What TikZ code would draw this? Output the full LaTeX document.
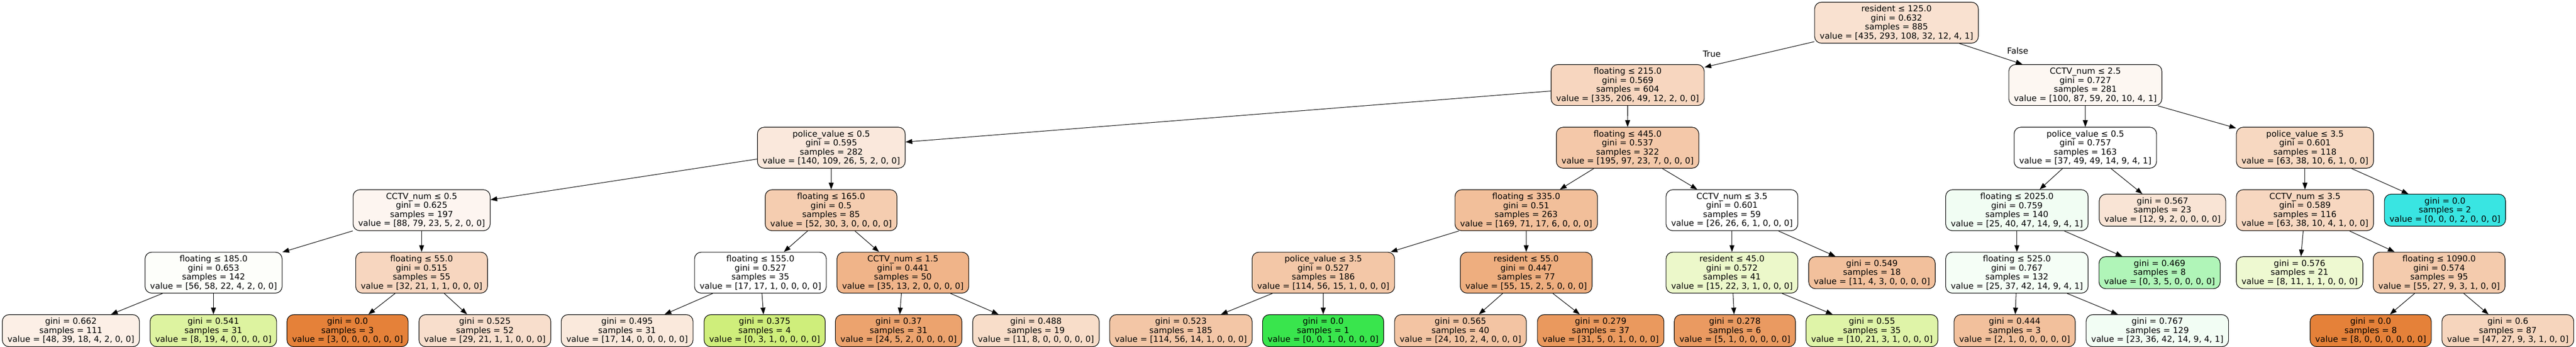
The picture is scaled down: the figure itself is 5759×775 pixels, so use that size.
\documentclass[tikz,border=0pt]{standalone}
\usepackage{fontspec}
\setmainfont{DejaVu Sans}
\usetikzlibrary{arrows.meta}
\definecolor{k00}{RGB}{249,225,208}
\definecolor{k01}{RGB}{247,214,191}
\definecolor{k02}{RGB}{253,247,242}
\definecolor{k03}{RGB}{250,232,220}
\definecolor{k04}{RGB}{244,200,169}
\definecolor{k05}{RGB}{255,255,255}
\definecolor{k06}{RGB}{247,216,193}
\definecolor{k07}{RGB}{253,245,240}
\definecolor{k08}{RGB}{245,205,176}
\definecolor{k09}{RGB}{242,191,154}
\definecolor{k11}{RGB}{241,253,243}
\definecolor{k12}{RGB}{249,228,213}
\definecolor{k13}{RGB}{247,215,192}
\definecolor{k14}{RGB}{57,229,226}
\definecolor{k15}{RGB}{253,254,250}
\definecolor{k16}{RGB}{247,214,191}
\definecolor{k18}{RGB}{240,180,137}
\definecolor{k19}{RGB}{243,199,167}
\definecolor{k20}{RGB}{238,174,127}
\definecolor{k21}{RGB}{236,248,202}
\definecolor{k22}{RGB}{242,192,156}
\definecolor{k23}{RGB}{245,254,246}
\definecolor{k24}{RGB}{176,245,184}
\definecolor{k25}{RGB}{238,249,209}
\definecolor{k26}{RGB}{244,203,173}
\definecolor{m01}{RGB}{252,239,230}
\definecolor{m02}{RGB}{221,243,160}
\definecolor{m03}{RGB}{229,129,57}
\definecolor{m04}{RGB}{248,222,204}
\definecolor{m05}{RGB}{250,233,220}
\definecolor{m06}{RGB}{207,238,123}
\definecolor{m07}{RGB}{236,163,110}
\definecolor{m08}{RGB}{248,221,201}
\definecolor{m09}{RGB}{243,198,166}
\definecolor{m10}{RGB}{57,229,77}
\definecolor{m11}{RGB}{243,196,163}
\definecolor{m12}{RGB}{234,153,94}
\definecolor{m13}{RGB}{234,154,97}
\definecolor{m14}{RGB}{223,244,168}
\definecolor{m15}{RGB}{242,192,156}
\definecolor{m16}{RGB}{242,253,244}
\definecolor{m18}{RGB}{246,213,189}
\tikzset{
  tn/.style={draw=black, line width=1.3pt, rounded corners=15pt, align=center,
    inner xsep=11.5pt, inner ysep=0pt, minimum height=91.5pt,
    font=\fontsize{18.7pt}{20.2pt}\selectfont},
  lf/.style={tn, minimum height=71.6pt},
  ed/.style={-{Triangle[length=15pt,width=11pt]}, line width=1.2pt},
  lab/.style={font=\fontsize{18.7pt}{20.2pt}\selectfont, inner sep=0pt},
}
\begin{document}
\begin{tikzpicture}[x=1pt,y=-1pt]
\useasboundingbox (0,0) rectangle (5759,775);
% level 0
\node[tn, fill=k00] (n0) at (4239.8,50.7) {resident ≤ 125.0\\gini = 0.632\\samples = 885\\value = [435, 293, 108, 32, 12, 4, 1]};
% level 1
\node[tn, fill=k01] (n1) at (3638.8,190) {floating ≤ 215.0\\gini = 0.569\\samples = 604\\value = [335, 206, 49, 12, 2, 0, 0]};
\node[tn, fill=k02] (n2) at (4662,190) {CCTV\_num ≤ 2.5\\gini = 0.727\\samples = 281\\value = [100, 87, 59, 20, 10, 4, 1]};
% level 2
\node[tn, fill=k03] (n3) at (1858.5,330) {police\_value ≤ 0.5\\gini = 0.595\\samples = 282\\value = [140, 109, 26, 5, 2, 0, 0]};
\node[tn, fill=k04] (n4) at (3638.7,330) {floating ≤ 445.0\\gini = 0.537\\samples = 322\\value = [195, 97, 23, 7, 0, 0, 0]};
\node[tn, fill=k05] (n5) at (4662,330) {police\_value ≤ 0.5\\gini = 0.757\\samples = 163\\value = [37, 49, 49, 14, 9, 4, 1]};
\node[tn, fill=k06] (n6) at (5153,330) {police\_value ≤ 3.5\\gini = 0.601\\samples = 118\\value = [63, 38, 10, 6, 1, 0, 0]};
% level 3
\node[tn, fill=k07] (n7) at (942.6,469.6) {CCTV\_num ≤ 0.5\\gini = 0.625\\samples = 197\\value = [88, 79, 23, 5, 2, 0, 0]};
\node[tn, fill=k08] (n8) at (1858,469.6) {floating ≤ 165.0\\gini = 0.5\\samples = 85\\value = [52, 30, 3, 0, 0, 0, 0]};
\node[tn, fill=k09] (n9) at (3412,469.6) {floating ≤ 335.0\\gini = 0.51\\samples = 263\\value = [169, 71, 17, 6, 0, 0, 0]};
\node[tn, fill=k05] (n10) at (3872,469.6) {CCTV\_num ≤ 3.5\\gini = 0.601\\samples = 59\\value = [26, 26, 6, 1, 0, 0, 0]};
\node[tn, fill=k11] (n11) at (4509,469.6) {floating ≤ 2025.0\\gini = 0.759\\samples = 140\\value = [25, 40, 47, 14, 9, 4, 1]};
\node[lf, fill=k12] (n12) at (4834.5,469.6) {gini = 0.567\\samples = 23\\value = [12, 9, 2, 0, 0, 0, 0]};
\node[tn, fill=k13] (n13) at (5153,469.6) {CCTV\_num ≤ 3.5\\gini = 0.589\\samples = 116\\value = [63, 38, 10, 4, 1, 0, 0]};
\node[lf, fill=k14] (n14) at (5466,469.6) {gini = 0.0\\samples = 2\\value = [0, 0, 0, 2, 0, 0, 0]};
% level 4
\node[tn, fill=k15] (n15) at (477.5,609.1) {floating ≤ 185.0\\gini = 0.653\\samples = 142\\value = [56, 58, 22, 4, 2, 0, 0]};
\node[tn, fill=k16] (n16) at (942.5,609.1) {floating ≤ 55.0\\gini = 0.515\\samples = 55\\value = [32, 21, 1, 1, 0, 0, 0]};
\node[tn, fill=k05] (n17) at (1700,609.1) {floating ≤ 155.0\\gini = 0.527\\samples = 35\\value = [17, 17, 1, 0, 0, 0, 0]};
\node[tn, fill=k18] (n18) at (2018.5,609.1) {CCTV\_num ≤ 1.5\\gini = 0.441\\samples = 50\\value = [35, 13, 2, 0, 0, 0, 0]};
\node[tn, fill=k19] (n19) at (2958.5,609.1) {police\_value ≤ 3.5\\gini = 0.527\\samples = 186\\value = [114, 56, 15, 1, 0, 0, 0]};
\node[tn, fill=k20] (n20) at (3412,609.1) {resident ≤ 55.0\\gini = 0.447\\samples = 77\\value = [55, 15, 2, 5, 0, 0, 0]};
\node[tn, fill=k21] (n21) at (3872,609.1) {resident ≤ 45.0\\gini = 0.572\\samples = 41\\value = [15, 22, 3, 1, 0, 0, 0]};
\node[lf, fill=k22] (n22) at (4185,609.1) {gini = 0.549\\samples = 18\\value = [11, 4, 3, 0, 0, 0, 0]};
\node[tn, fill=k23] (n23) at (4509,609.1) {floating ≤ 525.0\\gini = 0.767\\samples = 132\\value = [25, 37, 42, 14, 9, 4, 1]};
\node[lf, fill=k24] (n24) at (4828,609.1) {gini = 0.469\\samples = 8\\value = [0, 3, 5, 0, 0, 0, 0]};
\node[lf, fill=k25] (n25) at (5141,609.1) {gini = 0.576\\samples = 21\\value = [8, 11, 1, 1, 0, 0, 0]};
\node[tn, fill=k26] (n26) at (5453,609.1) {floating ≤ 1090.0\\gini = 0.574\\samples = 95\\value = [55, 27, 9, 3, 1, 0, 0]};
% level 5
\node[lf, fill=m01] (l1) at (158.5,738.7) {gini = 0.662\\samples = 111\\value = [48, 39, 18, 4, 2, 0, 0]};
\node[lf, fill=m02] (l2) at (477,738.7) {gini = 0.541\\samples = 31\\value = [8, 19, 4, 0, 0, 0, 0]};
\node[lf, fill=m03] (l3) at (777,738.7) {gini = 0.0\\samples = 3\\value = [3, 0, 0, 0, 0, 0, 0]};
\node[lf, fill=m04] (l4) at (1084,738.7) {gini = 0.525\\samples = 52\\value = [29, 21, 1, 1, 0, 0, 0]};
\node[lf, fill=m05] (l5) at (1402,738.7) {gini = 0.495\\samples = 31\\value = [17, 14, 0, 0, 0, 0, 0]};
\node[lf, fill=m06] (l6) at (1709.5,738.7) {gini = 0.375\\samples = 4\\value = [0, 3, 1, 0, 0, 0, 0]};
\node[lf, fill=m07] (l7) at (2009,738.7) {gini = 0.37\\samples = 31\\value = [24, 5, 2, 0, 0, 0, 0]};
\node[lf, fill=m08] (l8) at (2316,738.7) {gini = 0.488\\samples = 19\\value = [11, 8, 0, 0, 0, 0, 0]};
\node[lf, fill=m09] (l9) at (2640,738.7) {gini = 0.523\\samples = 185\\value = [114, 56, 14, 1, 0, 0, 0]};
\node[lf, fill=m10] (l10) at (2958,738.7) {gini = 0.0\\samples = 1\\value = [0, 0, 1, 0, 0, 0, 0]};
\node[lf, fill=m11] (l11) at (3265,738.7) {gini = 0.565\\samples = 40\\value = [24, 10, 2, 4, 0, 0, 0]};
\node[lf, fill=m12] (l12) at (3578.5,738.7) {gini = 0.279\\samples = 37\\value = [31, 5, 0, 1, 0, 0, 0]};
\node[lf, fill=m13] (l13) at (3878.5,738.7) {gini = 0.278\\samples = 6\\value = [5, 1, 0, 0, 0, 0, 0]};
\node[lf, fill=m14] (l14) at (4185,738.7) {gini = 0.55\\samples = 35\\value = [10, 21, 3, 1, 0, 0, 0]};
\node[lf, fill=m15] (l15) at (4504,738.7) {gini = 0.444\\samples = 3\\value = [2, 1, 0, 0, 0, 0, 0]};
\node[lf, fill=m16] (l16) at (4823,738.7) {gini = 0.767\\samples = 129\\value = [23, 36, 42, 14, 9, 4, 1]};
\node[lf, fill=m03] (l17) at (5300,738.7) {gini = 0.0\\samples = 8\\value = [8, 0, 0, 0, 0, 0, 0]};
\node[lf, fill=m18] (l18) at (5606.6,738.7) {gini = 0.6\\samples = 87\\value = [47, 27, 9, 3, 1, 0, 0]};
% labels
\node[lab] (tT) at (3827,120.4) {True};
\node[lab] (tF) at (4510.8,113.4) {False};
% edges
\draw[ed] (n0) -- (n1);
\draw[ed] (n0) -- (n2);
\draw[ed] (n1) -- (n3);
\draw[ed] (n1) -- (n4);
\draw[ed] (n2) -- (n5);
\draw[ed] (n2) -- (n6);
\draw[ed] (n3) -- (n7);
\draw[ed] (n3) -- (n8);
\draw[ed] (n4) -- (n9);
\draw[ed] (n4) -- (n10);
\draw[ed] (n5) -- (n11);
\draw[ed] (n5) -- (n12);
\draw[ed] (n6) -- (n13);
\draw[ed] (n6) -- (n14);
\draw[ed] (n7) -- (n15);
\draw[ed] (n7) -- (n16);
\draw[ed] (n8) -- (n17);
\draw[ed] (n8) -- (n18);
\draw[ed] (n9) -- (n19);
\draw[ed] (n9) -- (n20);
\draw[ed] (n10) -- (n21);
\draw[ed] (n10) -- (n22);
\draw[ed] (n11) -- (n23);
\draw[ed] (n11) -- (n24);
\draw[ed] (n13) -- (n25);
\draw[ed] (n13) -- (n26);
\draw[ed] (n15) -- (l1);
\draw[ed] (n15) -- (l2);
\draw[ed] (n16) -- (l3);
\draw[ed] (n16) -- (l4);
\draw[ed] (n17) -- (l5);
\draw[ed] (n17) -- (l6);
\draw[ed] (n18) -- (l7);
\draw[ed] (n18) -- (l8);
\draw[ed] (n19) -- (l9);
\draw[ed] (n19) -- (l10);
\draw[ed] (n20) -- (l11);
\draw[ed] (n20) -- (l12);
\draw[ed] (n21) -- (l13);
\draw[ed] (n21) -- (l14);
\draw[ed] (n23) -- (l15);
\draw[ed] (n23) -- (l16);
\draw[ed] (n26) -- (l17);
\draw[ed] (n26) -- (l18);
\end{tikzpicture}
\end{document}
